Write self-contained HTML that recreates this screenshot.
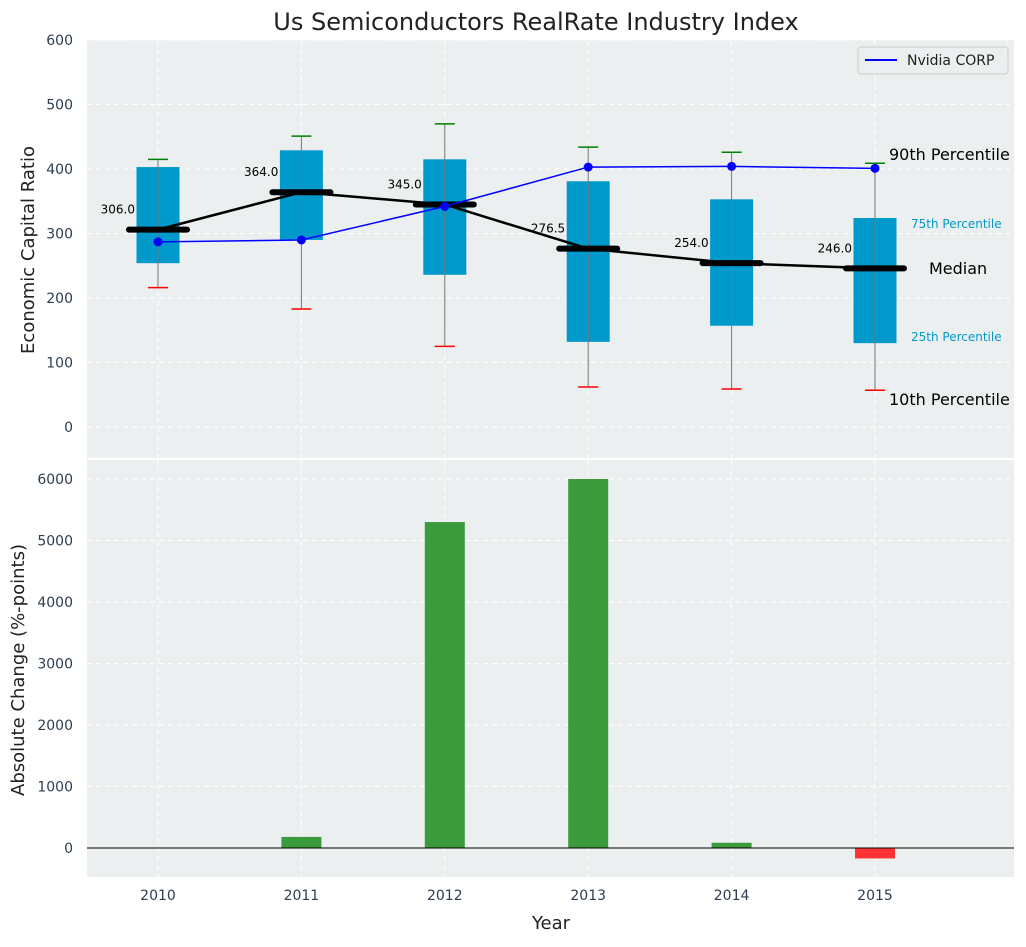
<!DOCTYPE html>
<html><head><meta charset="utf-8"><style>
body{margin:0;background:#fff;font-family:"Liberation Sans","DejaVu Sans",sans-serif}
svg text{font-family:"DejaVu Sans","Liberation Sans",sans-serif}
</style></head><body>
<svg id="chart" width="1026" height="942" viewBox="0 0 1026 942" xmlns="http://www.w3.org/2000/svg">
<text x="536" y="30" text-anchor="middle" font-size="24" fill="#222">Us Semiconductors RealRate Industry Index</text>
<rect x="87" y="40" width="927" height="418" fill="#ebeff0"/>
<rect x="87" y="460" width="927" height="417" fill="#ebeff0"/>
<g id="topg"></g><g id="botg"></g>
<text x="34" y="250" transform="rotate(-90 34 250)" text-anchor="middle" font-size="18" fill="#222">Economic Capital Ratio</text>
<text x="24" y="670" transform="rotate(-90 24 670)" text-anchor="middle" font-size="18" fill="#222">Absolute Change (%-points)</text>
<text x="551" y="929" text-anchor="middle" font-size="18" fill="#222">Year</text>
<g>
<rect x="858" y="47" width="150" height="27" rx="3" fill="#ebeff0" stroke="#ccc"/>
<line x1="865" y1="60" x2="897" y2="60" stroke="#0000ff" stroke-width="2"/>
<text x="907" y="65" font-size="14" fill="#222">Nvidia CORP</text>
</g>
<text x="889" y="160" font-size="16" fill="#000">90th Percentile</text>
<text x="911" y="228" font-size="12" fill="#0099cc">75th Percentile</text>
<text x="929" y="274" font-size="16" fill="#000">Median</text>
<text x="911" y="341" font-size="12" fill="#0099cc">25th Percentile</text>
<text x="889" y="405" font-size="16" fill="#000">10th Percentile</text>
</svg>
<script>
const years=[2010,2011,2012,2013,2014,2015];
const p10=[216,183,125,62,59,57];
const p25=[254,290,236,132,157,130];
const median=[306,364,345,276.5,254,246];
const p75=[403,429,415,381,353,324];
const p90=[415,451,470,434,426,409];
const nvidia=[287,290,342,403,404,401];
const change=[0,180,5300,6000,85,-170];
const topTicks=[0,100,200,300,400,500,600];
const botTicks=[0,1000,2000,3000,4000,5000,6000];
const NS='http://www.w3.org/2000/svg';
const X=v=>158+(v-2010)*143.4;
const Yt=v=>427-v*0.645;
const Yb=v=>848-v*0.0615;
function mk(p,t,a){const e=document.createElementNS(NS,t);for(const k in a)e.setAttribute(k,a[k]);p.appendChild(e);return e;}
const topG=document.getElementById('topg'),botG=document.getElementById('botg');
topTicks.forEach(t=>{const y=Yt(t);
 const g=mk(topG,'line',{x1:87,x2:1014,y1:y,y2:y,stroke:'#fff','stroke-dasharray':'5 4','stroke-width':1});
 
 
 const l=mk(topG,'text',{x:73,y:y+5,'text-anchor':'end','font-size':14,fill:'#2c3e50'});l.textContent=t;
 
 });
botTicks.forEach(t=>{const y=Yb(t);
 const g=mk(botG,'line',{x1:87,x2:1014,y1:y,y2:y,stroke:'#fff','stroke-dasharray':'5 4','stroke-width':1});
 
 
 const l=mk(botG,'text',{x:73,y:y+5,'text-anchor':'end','font-size':14,fill:'#2c3e50'});l.textContent=t;
 
 });
years.forEach(yr=>{const x=X(yr);
 [[40,458],[460,877]].forEach(r=>{const g=mk(topG,'line',{x1:x,x2:x,y1:r[0],y2:r[1],stroke:'#fff','stroke-dasharray':'5 4'});
 
 });
 const l=mk(botG,'text',{x:x,y:900,'text-anchor':'middle','font-size':14,fill:'#2c3e50'});l.textContent=yr;
 
 });
const hw=21.5;
years.forEach((yr,i)=>{const x=X(yr);
 const b=mk(topG,'rect',{x:x-hw,y:Yt(p75[i]),width:2*hw,height:Yt(p25[i])-Yt(p75[i]),fill:'#0099cc'});
 
 
 const w=mk(topG,'line',{x1:x,x2:x,y1:Yt(p90[i]),y2:Yt(p10[i]),stroke:'#777','stroke-width':1});
 
 
 const c1=mk(topG,'line',{x1:x-10,x2:x+10,y1:Yt(p90[i]),y2:Yt(p90[i]),stroke:'green','stroke-width':1.5});
 
 
 const c2=mk(topG,'line',{x1:x-10,x2:x+10,y1:Yt(p10[i]),y2:Yt(p10[i]),stroke:'red','stroke-width':1.5});
 
 
 const m=mk(topG,'line',{x1:x-29,x2:x+29,y1:Yt(median[i]),y2:Yt(median[i]),stroke:'#000','stroke-width':6,'stroke-linecap':'round'});
 
 
 const t=mk(topG,'text',{x:x-23,y:Yt(median[i])-16,'text-anchor':'end','font-size':12,fill:'#000'});t.textContent=median[i].toFixed(1);
 
 
});
const ml=mk(topG,'polyline',{points:years.map((y,i)=>X(y)+','+Yt(median[i])).join(' '),fill:'none',stroke:'#000','stroke-width':2.5});


const nl=mk(topG,'polyline',{points:years.map((y,i)=>X(y)+','+Yt(nvidia[i])).join(' '),fill:'none',stroke:'#0000ff','stroke-width':1.5});


years.forEach((y,i)=>{const p=mk(topG,'circle',{cx:X(y),cy:Yt(nvidia[i]),r:4.5,fill:'#0000ff'});
 
 });
const bw=20;
years.forEach((y,i)=>{const v=change[i];const y0=Yb(0),y1=Yb(v);
 const r=mk(botG,'rect',{x:X(y)-bw,y:Math.min(y0,y1),width:2*bw,height:Math.abs(y1-y0),fill:v>=0?'#3a9a3c':'#ff3333'});
 
 });
const zl=mk(botG,'line',{x1:87,x2:1014,y1:Yb(0),y2:Yb(0),stroke:'#000','stroke-width':1});


</script>
</body></html>
